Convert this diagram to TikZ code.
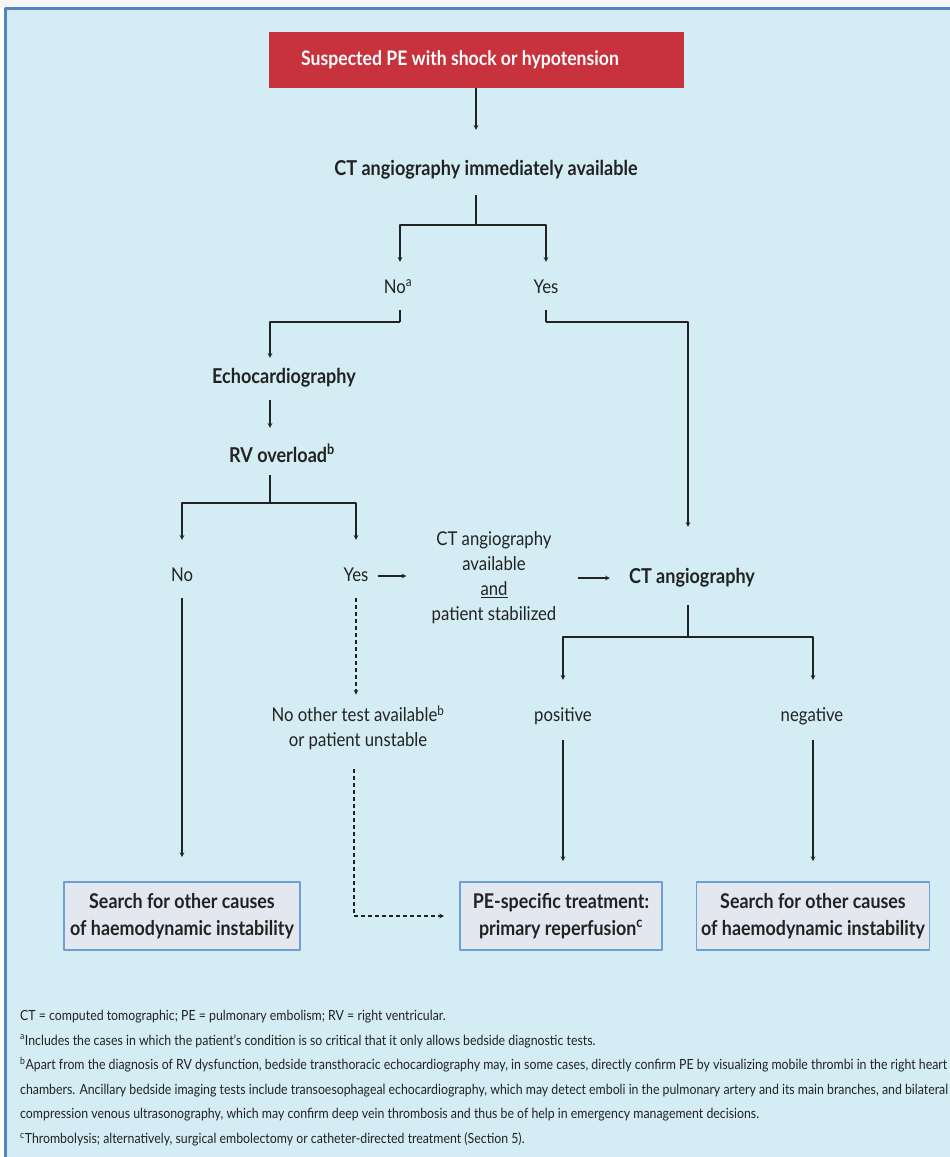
\documentclass[tikz,border=0pt]{standalone}
\usepackage{fontspec}
\setmainfont{Lato}[FakeStretch=0.88]
\usetikzlibrary{calc}

\definecolor{bgblue}{HTML}{D4EDF4}
\definecolor{frameblue}{HTML}{4F86BE}
\definecolor{pered}{HTML}{C7323D}
\definecolor{boxfill}{HTML}{E3E7F0}
\definecolor{boxline}{HTML}{6E9FD6}
\definecolor{ink}{HTML}{222222}

\tikzset{
  lbl/.style={text=ink, inner sep=0pt, text height=14pt, text depth=4pt},
  boldlbl/.style={lbl, font=\fontsize{20.5}{25}\selectfont\bfseries},
  multi/.style={text=ink, inner sep=0pt, align=center},
  redbox/.style={fill=pered, text=white, font=\fontsize{20}{25}\selectfont\bfseries,
    minimum width=415pt, minimum height=56pt},
  endbox/.style={fill=boxfill, draw=boxline, line width=1.8pt, text=ink, align=center,
    font=\fontsize{20.3}{27}\selectfont\bfseries, minimum height=68pt, inner sep=0pt},
  conn/.style={draw=ink, line width=1.1pt},
  dashconn/.style={conn, dash pattern=on 4pt off 3pt}
}

\begin{document}
\begin{tikzpicture}[x=1pt,y=-1pt,>=stealth,line join=round,font=\fontsize{19}{25}\selectfont]
  \useasboundingbox (0,0) rectangle (950,1157);
  % frame
  \fill[gray!8] (0,0) rectangle (950,8);
  \fill[bgblue] (5,8) rectangle (950,1157);
  \draw[frameblue,line width=3pt] (5,1157) -- (5,8) -- (950,8);

  % nodes
  \node[redbox] (susp) at (476,60) {Suspected PE with shock or hypotension\hspace*{32pt}};
  \node[boldlbl] (ctimm) at (486,170) {CT angiography immediately available};
  \node[lbl] (noA) at (398,288) {No\textsuperscript{a}};
  \node[lbl] (yesA) at (546,288) {Yes};
  \node[boldlbl] (echo) at (284,378) {Echocardiography};
  \node[boldlbl] (rvo) at (282,457) {RV overload\textsuperscript{b}};
  \node[lbl] (noB) at (182,576) {No};
  \node[lbl] (yesB) at (356,576) {Yes};
  \node[multi] (ctcond) at (494,578) {CT angiography\\available\\\underline{and}\\patient stabilized};
  \node[boldlbl] (cta) at (692,578) {CT angiography};
  \node[lbl] (pos) at (563,716) {positive};
  \node[lbl] (neg) at (812,716) {negative};
  \node[multi] (other) at (358,728) {No other test available\textsuperscript{b}\\or patient unstable};
  \node[endbox,minimum width=236pt] (search1) at (182,916) {Search for other causes\\of haemodynamic instability};
  \node[endbox,minimum width=202pt] (treat) at (561,916) {PE-specific treatment:\\primary reperfusion\textsuperscript{c}};
  \node[endbox,minimum width=233pt] (search2) at (813,916) {Search for other causes\\of haemodynamic instability};

  % junctions
  \coordinate (splitA) at (476,225);
  \coordinate (elbowNo) at (400,322);
  \coordinate (elbowYes) at (546,322);
  \coordinate (splitB) at (270,503);
  \coordinate (splitC) at (688,637);

  % connectors
  \draw[conn,->,shorten >=31pt] (susp.south) -- (susp.south |- ctimm.north);
  \draw[conn,shorten <=16pt] (ctimm.south -| splitA) -- (splitA);
  \draw[conn,->,shorten >=17pt] (splitA) -| ([xshift=2pt]noA.north);
  \draw[conn,->,shorten >=17pt] (splitA) -| (yesA.north);
  \draw[conn,shorten <=13pt] ([xshift=2pt]noA.south) -- (elbowNo);
  \draw[conn,->,shorten >=11pt] (elbowNo) -| ([xshift=-14pt]echo.north);
  \draw[conn,->,shorten <=13pt,shorten >=20pt] ([xshift=-14pt]echo.south) -- ([xshift=-12pt]rvo.north);
  \draw[conn,shorten <=9pt] ([xshift=-12pt]rvo.south) -- (splitB);
  \draw[conn,->,shorten >=27pt] (splitB) -| (noB.north);
  \draw[conn,->,shorten >=27pt] (splitB) -| (yesB.north);
  \draw[conn,shorten <=13pt] (yesA.south) -- (elbowYes);
  \draw[conn,->,shorten >=42pt] (elbowYes) -| ([xshift=-4pt]cta.north);
  \draw[conn,->,shorten <=9pt,shorten >=25pt] (yesB.east) -- (yesB.east -| ctcond.west);
  \draw[conn,->,shorten <=21pt,shorten >=19pt] (ctcond.east) -- (ctcond.east -| cta.west);
  \draw[conn,shorten <=18pt] ([xshift=-4pt]cta.south) -- (splitC);
  \draw[conn,->,shorten >=27pt] (splitC) -| (pos.north);
  \draw[conn,->,shorten >=27pt] (splitC) -| ([xshift=1pt]neg.north);
  \draw[conn,->,shorten <=15pt,shorten >=20pt] (pos.south) -- (pos.south |- treat.north);
  \draw[conn,->,shorten <=15pt,shorten >=20pt] ([xshift=1pt]neg.south) -- ([xshift=1pt]neg.south |- search2.north);
  \draw[conn,->,shorten <=13pt,shorten >=24pt] (noB.south) -- (noB.south |- search1.north);
  \draw[dashconn,->,shorten <=13pt,shorten >=11pt] (yesB.south) -- (yesB.south |- other.north);
  \draw[dashconn,->,shorten <=19pt,shorten >=15pt] ([xshift=-4pt]other.south) |- (treat.west);

  % footnotes
  \node[text=ink, anchor=north west, align=left, inner sep=0pt,
    font=\fontsize{14}{24.6}\selectfont] (notes) at (20,1010)
    {CT = computed tomographic; PE = pulmonary embolism; RV = right ventricular.\\
     \textsuperscript{a}Includes the cases in which the patient's condition is so critical that it only allows bedside diagnostic tests.\\
     \textsuperscript{b}Apart from the diagnosis of RV dysfunction, bedside transthoracic echocardiography may, in some cases, directly confirm PE by visualizing mobile thrombi in the right heart\\
     chambers. Ancillary bedside imaging tests include transoesophageal echocardiography, which may detect emboli in the pulmonary artery and its main branches, and bilateral\\
     compression venous ultrasonography, which may confirm deep vein thrombosis and thus be of help in emergency management decisions.\\
     \textsuperscript{c}Thrombolysis; alternatively, surgical embolectomy or catheter-directed treatment (Section 5).};
\end{tikzpicture}
\end{document}
